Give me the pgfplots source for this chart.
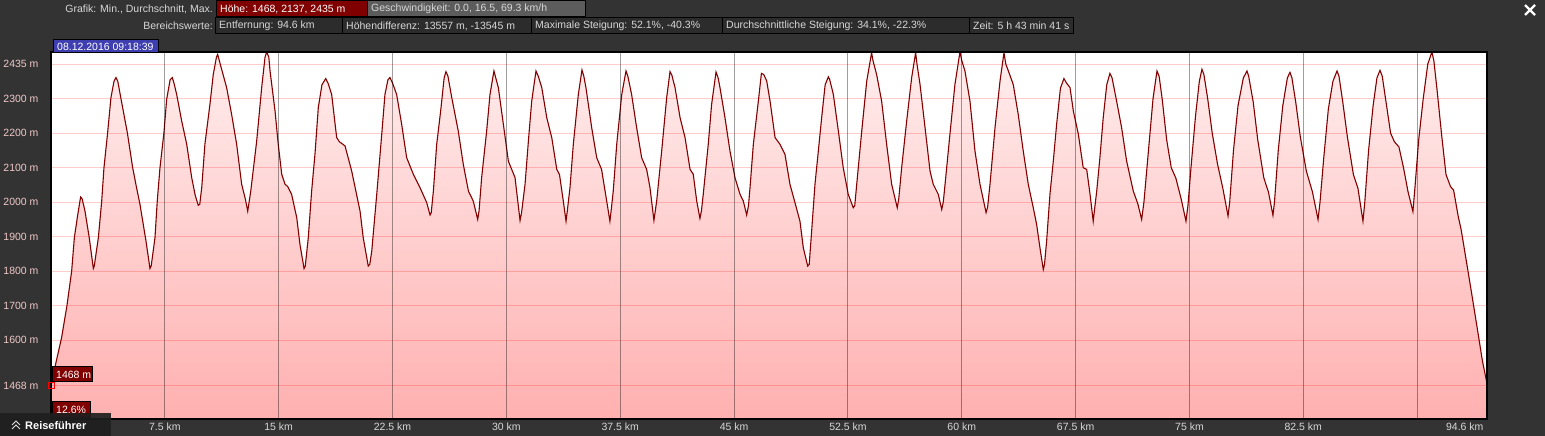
\documentclass[border=0pt]{standalone}
\usepackage{fontspec}
\setmainfont{Liberation Sans}
\usepackage{pgfplots}
\usepackage{pgfplotstable}
\pgfplotsset{compat=1.18}

\definecolor{bgdark}{RGB}{51,51,51}
\definecolor{boxdark}{RGB}{44,44,44}
\definecolor{hoehe}{RGB}{128,0,0}
\definecolor{geschw}{RGB}{92,92,92}
\definecolor{dateblue}{RGB}{62,62,176}
\definecolor{curve}{RGB}{130,0,0}
\definecolor{fillTop}{RGB}{255,238,238}
\definecolor{fillBot}{RGB}{255,176,176}
\definecolor{ylab}{RGB}{240,200,200}
\definecolor{xlab}{RGB}{215,215,215}
\definecolor{hdr}{RGB}{215,215,215}

% elevation profile (km, m)
\pgfplotstableread{
x y
0 1468
0.35 1540
0.7 1608
1.05 1700
1.36 1800
1.54 1898
1.75 1960
1.95 2015
2.05 2010
2.24 1974
2.52 1897
2.79 1808
2.85 1815
3.12 1897
3.34 2003
3.49 2100
3.73 2201
3.95 2303
4.15 2350
4.28 2361
4.40 2350
4.66 2288
5.03 2201
5.38 2100
5.60 2050
5.86 1994
6.26 1887
6.52 1808
6.60 1815
6.85 1897
7.0 2003
7.18 2100
7.44 2201
7.62 2298
7.85 2355
7.99 2361
8.10 2345
8.28 2312
8.61 2235
8.94 2168
9.27 2071
9.50 2020
9.70 1991
9.80 1994
9.93 2042
10.14 2168
10.47 2283
10.69 2370
10.90 2420
10.98 2428
11.24 2385
11.57 2332
11.90 2254
12.23 2168
12.56 2052
12.80 2010
12.96 1974
13.16 2032
13.55 2177
13.88 2332
14.10 2420
14.21 2435
14.35 2420
14.43 2380
14.76 2264
14.97 2168
15.2 2081
15.42 2052
15.60 2045
15.85 2023
16.19 1955
16.4 1878
16.67 1808
16.75 1815
16.95 1897
17.17 2032
17.39 2139
17.61 2274
17.85 2340
18.10 2358
18.25 2345
18.49 2312
18.82 2187
19.0 2175
19.37 2163
19.81 2090
20.36 1974
20.57 1897
20.9 1815
21.0 1820
21.13 1858
21.46 2023
21.79 2197
22.0 2312
22.20 2355
22.33 2361
22.50 2345
22.77 2312
23.1 2226
23.43 2129
23.87 2081
24.31 2042
24.75 1999
24.97 1963
25.05 1970
25.19 2032
25.41 2168
25.67 2264
25.90 2360
26.02 2378
26.15 2365
26.4 2303
26.83 2206
27.16 2110
27.5 2032
27.82 2003
28.11 1950
28.20 1975
28.37 2071
28.7 2206
28.92 2312
29.18 2380
29.30 2360
29.47 2332
29.8 2226
30.13 2119
30.57 2071
30.9 1947
31.0 1970
31.23 2052
31.45 2177
31.67 2293
31.95 2380
32.10 2365
32.33 2332
32.66 2245
32.99 2187
33.32 2095
33.50 2080
33.75 2003
33.93 1945
34.0 1970
34.19 2042
34.41 2168
34.74 2312
34.98 2383
35.10 2365
35.24 2332
35.62 2216
35.95 2129
36.27 2095
36.61 2003
36.82 1945
36.9 1975
37.04 2032
37.27 2168
37.6 2312
37.88 2380
38.0 2365
38.25 2312
38.58 2216
38.91 2129
39.24 2095
39.46 2042
39.72 1947
39.9 2003
40.23 2148
40.56 2303
40.78 2378
40.90 2368
41.11 2332
41.44 2245
41.77 2187
42.1 2095
42.31 2081
42.54 2003
42.75 1953
42.85 1975
42.97 2023
43.3 2168
43.52 2283
43.81 2377
43.95 2360
44.07 2332
44.4 2245
44.73 2148
45.06 2071
45.39 2023
45.61 2003
45.83 1963
45.95 1990
46.05 2042
46.27 2168
46.6 2293
46.80 2373
46.95 2370
47.15 2351
47.37 2293
47.7 2187
48.02 2168
48.35 2139
48.68 2052
49.01 1999
49.34 1945
49.56 1868
49.85 1815
49.95 1820
50.11 1916
50.33 2052
50.55 2148
50.77 2245
51.0 2340
51.21 2363
51.30 2355
51.54 2312
51.87 2206
52.19 2100
52.52 2023
52.85 1984
52.95 1990
53.08 2052
53.41 2206
53.74 2351
54.06 2433
54.15 2410
54.39 2370
54.72 2293
55.05 2168
55.38 2052
55.75 1984
55.85 2010
56.04 2100
56.37 2235
56.7 2361
56.96 2433
57.05 2400
57.25 2341
57.58 2216
57.91 2090
58.12 2052
58.45 2023
58.68 1979
58.78 2000
58.9 2052
59.22 2197
59.55 2341
59.88 2435
60.0 2410
60.21 2380
60.54 2293
60.87 2148
61.2 2052
61.6 1970
61.7 1985
61.86 2052
62.19 2216
62.52 2351
62.78 2433
62.90 2400
63.07 2380
63.39 2341
63.72 2254
64.05 2148
64.38 2052
64.71 1984
64.93 1936
65.15 1868
65.37 1805
65.45 1820
65.59 1887
65.81 2023
66.03 2119
66.25 2226
66.50 2330
66.73 2358
66.90 2345
67.13 2332
67.35 2264
67.68 2197
68.0 2100
68.23 2095
68.45 2023
68.66 1945
68.75 1980
68.89 2032
69.1 2129
69.32 2245
69.55 2340
69.76 2373
69.90 2360
70.2 2293
70.53 2216
70.86 2119
71.3 2032
71.6 1995
71.85 1950
72.0 2000
72.3 2150
72.6 2300
72.86 2380
73.0 2365
73.2 2300
73.5 2180
73.8 2100
74.1 2070
74.45 2010
74.77 1945
74.9 1990
75.1 2100
75.4 2250
75.65 2350
75.82 2385
75.95 2370
76.2 2300
76.5 2200
76.85 2110
77.2 2040
77.54 1960
77.65 2000
77.9 2150
78.2 2280
78.55 2360
78.79 2380
78.9 2365
79.2 2290
79.5 2180
79.9 2070
80.2 2030
80.5 1962
80.6 2000
80.85 2150
81.15 2280
81.45 2360
81.62 2376
81.75 2360
82.0 2290
82.3 2190
82.7 2090
83.1 2030
83.47 1950
83.6 2000
83.85 2130
84.15 2270
84.45 2350
84.72 2380
84.85 2365
85.1 2290
85.4 2190
85.8 2080
86.1 2040
86.43 1945
86.55 2000
86.8 2150
87.1 2280
87.35 2360
87.55 2382
87.7 2365
87.95 2290
88.25 2200
88.5 2175
88.8 2160
89.1 2100
89.4 2030
89.72 1973
89.85 2040
90.1 2180
90.4 2300
90.7 2400
90.97 2435
91.1 2410
91.3 2330
91.6 2200
91.9 2080
92.2 2045
92.4 2035
92.7 1960
92.9 1920
93.2 1840
93.5 1760
93.94 1640
94.3 1540
94.6 1475
}\profile

% header box: x1, x2, ytop, ybottom (pixels from top), fill, text colour, text
\newcommand\hdrbox[7]{%
  \draw[black, line width=1pt, fill=#5] (#1pt,436pt-#3pt) rectangle (#2pt,436pt-#4pt);
  \node[anchor=west, inner sep=0pt, text=#6] at ({#1pt+4pt},{436pt-0.5*(#3pt+#4pt)}) {#7};}

\begin{document}
\begin{tikzpicture}[every node/.style={font=\fontsize{10.5}{12}\selectfont}]
\fill[bgdark] (0pt,0pt) rectangle (1545pt,436pt);

\begin{axis}[
  at={(51pt,17pt)}, anchor=south west,
  scale only axis, width=1436pt, height=367pt,
  xmin=0, xmax=94.6, ymin=1372, ymax=2435,
  axis background/.style={fill=white},
  axis line style={black, line width=1.6pt},
  axis on top,
  xtick={7.5,15,22.5,30,37.5,45,52.5,60,67.5,75,82.5,90},
  xticklabels={7.5 km,15 km,22.5 km,30 km,37.5 km,45 km,52.5 km,60 km,67.5 km,75 km,82.5 km,},
  ytick={1468,1600,1700,1800,1900,2000,2100,2200,2300,2400},
  yticklabels={1468 m,1600 m,1700 m,1800 m,1900 m,2000 m,2100 m,2200 m,2300 m,2435 m},
  major tick length=0pt,
  xmajorgrids, ymajorgrids,
  x grid style={black, opacity=0.38, line width=1pt},
  y grid style={red, opacity=0.2, line width=1pt},
  xticklabel style={text=xlab, font=\fontsize{10.5}{12}\selectfont},
  yticklabel style={text=ylab, font=\fontsize{10.5}{12}\selectfont, xshift=-9pt},
  extra x ticks={94.6}, extra x tick labels={94.6 km},
  extra x tick style={grid=none, xticklabel style={anchor=north east}},
]
\addplot[draw=none, top color=fillTop, bottom color=fillBot] table[x=x, y=y] {\profile} \closedcycle;
\addplot[curve, line width=1.1pt] table[x=x, y=y] {\profile};
\end{axis}

% header
\node[anchor=east, inner sep=0pt, text=hdr] at (213pt,436pt-9pt) {Grafik: Min., Durchschnitt, Max.};
\hdrbox{216}{367}{1}{17}{hoehe}{white}{Höhe: 1468, 2137, 2435 m}
\hdrbox{367}{585}{1}{17}{geschw}{hdr}{Geschwindigkeit: 0.0, 16.5, 69.3 km/h}
\node[anchor=east, inner sep=0pt, text=hdr] at (213pt,436pt-26pt) {Bereichswerte:};
\hdrbox{215}{342}{18}{34}{boxdark}{hdr}{Entfernung: 94.6 km}
\hdrbox{342}{531}{18}{34}{boxdark}{hdr}{Höhendifferenz: 13557 m, -13545 m}
\hdrbox{531}{722}{18}{34}{boxdark}{hdr}{Maximale Steigung: 52.1\%, -40.3\%}
\hdrbox{722}{969}{18}{34}{boxdark}{hdr}{Durchschnittliche Steigung: 34.1\%, -22.3\%}
\hdrbox{969}{1073}{18}{34}{boxdark}{hdr}{Zeit: 5 h 43 min 41 s}
\hdrbox{53}{158}{40}{53}{dateblue}{white}{08.12.2016 09:18:39}

% close button
\draw[white, line width=2.2pt] (1525pt,436pt-5pt) -- (1535pt,436pt-15pt);
\draw[white, line width=2.2pt] (1525pt,436pt-15pt) -- (1535pt,436pt-5pt);

% cursor markers
\hdrbox{52}{92}{367}{382}{hoehe}{white}{1468 m}
\draw[red, line width=1pt] (48pt,436pt-389pt) rectangle (54pt,436pt-383pt);
\hdrbox{52}{90}{402}{418}{hoehe}{white}{12.6\%}

% travel guide tab
\fill[black!88!white, opacity=0.92] (0pt,0pt) rectangle (111pt,23pt);
\draw[white!75!gray, line width=1pt] (12pt,436pt-425pt) -- (16pt,436pt-421pt) -- (20pt,436pt-425pt);
\draw[white!75!gray, line width=1pt] (12pt,436pt-429pt) -- (16pt,436pt-425pt) -- (20pt,436pt-429pt);
\node[anchor=west, inner sep=0pt, text=white, font=\fontsize{11}{13}\selectfont\bfseries] at (25pt,436pt-426pt) {Reiseführer};
\end{tikzpicture}
\end{document}
